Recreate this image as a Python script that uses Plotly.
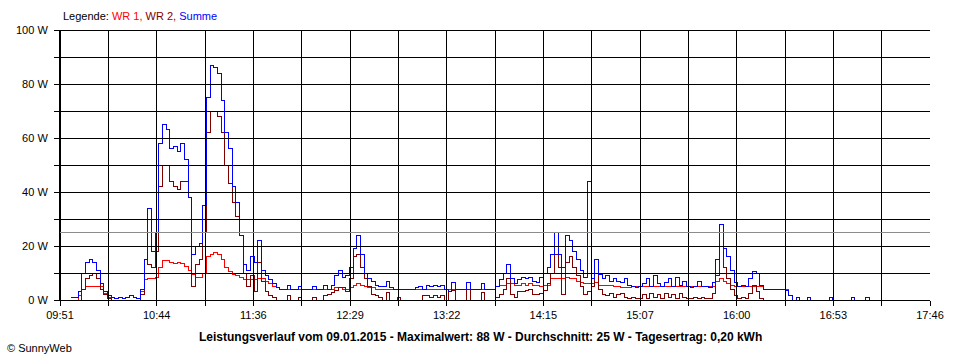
import pandas as pd
import plotly.graph_objects as go

# ---------------- data ----------------
DAY = "2015-01-09"
SAMPLE_START = "09:57"      # first reading
SAMPLE_STEP = "2min"        # reading interval
AXIS_START = "09:51"
AXIS_END = "17:46"

X_TICK_LABELS = ["09:51", "", "10:44", "", "11:36", "", "12:29", "", "13:22", "",
                 "14:15", "", "15:07", "", "16:00", "", "16:53", "", "17:46"]
Y_TICK_VALUES = [0, 10, 20, 30, 40, 50, 60, 70, 80, 90, 100]
Y_TICK_LABELS = ["0 W", "", "20 W", "", "40 W", "", "60 W", "", "80 W", "", "100 W"]
AVERAGE_W = 25

SUMME = [1, 1, 3, 10, 14, 15, 14, 11, 6, 3,
         1.5, 1, 0.5, 1, 0.5, 1, 1.5, 1, 0.5, 4,
         15, 34, 18, 25, 58, 65, 63, 56, 57, 55,
         58, 52, 38, 17, 20, 21, 35, 75, 87, 86,
         84, 74, 62, 56, 42, 36, 24, 13, 11, 16,
         14, 22, 11, 9, 7.5, 6, 4.5, 4, 4, 5.5,
         4, 4, 5, 4, 4, 4, 5, 4, 4, 5.5,
         4, 5.5, 9, 11, 8.5, 9, 12, 19, 24, 17,
         10, 8, 7, 5.5, 5, 5, 7, 4.5, 4, 4,
         4, 4, 4, 4, 4.5, 5, 4, 5.5, 5, 5.5,
         5, 5.5, 4, 3, 6.5, 4, 4, 4, 6.5, 4,
         4, 4, 6, 4, 4, 4, 5, 7.5, 10, 13,
         8, 6, 7.5, 8.5, 8, 8.5, 7, 6.5, 8.5, 10,
         12, 17, 25, 17, 12, 24, 22, 18, 15, 11,
         8.5, 44, 8, 15, 9.5, 8, 9, 7, 8, 7,
         6.5, 8, 5.5, 5, 4.5, 5, 6, 8, 5, 9,
         6, 5, 6.5, 8, 5, 8.5, 5.5, 7, 5, 4.5,
         5, 7, 5, 5, 4.5, 6.5, 15, 28, 19, 16,
         11, 6.5, 5, 5.5, 5, 8, 10.5, 10, 5.5, 4,
         4, 4, 4, 4, 4, 3.5, 1.5, 0, 1, 0,
         0, 1, 0, 0, 0, 0, 0, 1, 0, 0,
         0, 0, 0, 1, 0, 0, 0, 1, 0]

WR1 = [0, 0, 1.5, 4, 5, 5, 5, 5, 5, 2.5,
       1, 0, 0, 0, 0, 0, 0, 0, 0, 3,
       7.5, 8, 8, 8.5, 12, 14.5, 14.5, 14, 13.5, 14,
       13.5, 12.5, 11, 9.5, 8.5, 8.5, 10, 16, 17, 17.5,
       17, 15, 12, 10.5, 9.5, 9, 8.5, 7.5, 7.5, 7.5,
       7.5, 8, 8, 7, 6, 5, 4.5, 4, 4, 4,
       4, 4, 4, 4, 4, 4, 4, 4, 4, 4,
       4, 4, 4.5, 4.5, 4, 4, 4.5, 5.5, 6, 5.5,
       5, 4.5, 4.5, 4, 4, 4, 4, 4, 4, 4,
       4, 4, 4, 4, 4, 4, 4, 4, 4, 4,
       4, 4, 4, 4, 4, 4, 4, 4, 4, 4,
       4, 4, 4, 4, 4, 4, 5, 5.5, 5.5, 6,
       6, 5.5, 5.5, 6, 5.5, 6, 5.5, 5.5, 5, 5.5,
       5.5, 8, 8, 8, 8, 8.5, 8, 8, 7, 6.5,
       6, 6, 6, 6.5, 5.5, 5.5, 5.5, 5.5, 5, 5,
       4.5, 4.5, 4.5, 5, 5, 5, 5, 5, 5, 5,
       5, 5, 5, 5, 5, 5, 5, 5, 5, 5,
       5, 5, 5, 5, 5, 5, 7, 8, 7, 6,
       5.5, 5, 5, 5, 5, 5, 5, 5, 5, 4,
       4, 4, 4, 4, 4, 4, 1.5, 0, 0, 0,
       0, 0, 0, 0, 0, 0, 0, 0, 0, 0,
       0, 0, 0, 0, 0, 0, 0, 0, 0]

WR2 = [0, 0, 0, 4, 8, 9, 10, 8, 4, 2,
       0.5, 0, 0, 0, 0, 0, 0, 0, 0, 2,
       15, 13, 12, 18, 42, 50, 50, 44, 42, 41,
       44, 44, 38, 5, 13, 15, 25, 62, 70, 70,
       68, 62, 50, 43, 36, 31, 24, 10, 5, 9,
       3, 14, 7, 3, 1.5, 1, 0, 0, 0, 1.5,
       0, 0, 1, 0, 0, 0, 1, 0, 0, 1.5,
       2, 2.7, 3.5, 4.5, 4.5, 3, 8, 16, 17, 12,
       8, 5, 2, 1.5, 1, 0, 2.7, 0, 0, 1,
       0, 0, 0, 0, 0, 0, 1.5, 1.5, 1, 1.5,
       1, 1.5, 0, 3, 3.5, 0, 0, 0, 4, 0,
       0, 0, 2.7, 0, 0, 0, 1, 2, 4, 8,
       2, 1, 3, 3, 3.5, 4, 2, 2, 2.5, 3.5,
       6, 10, 17, 12, 2, 14, 16, 12, 9, 5,
       2, 3, 5, 10, 4, 2, 1.5, 2.5, 1, 2,
       2.5, 1, 0.5, 1, 0.5, 0.5, 2, 0.5, 2.5, 1,
       2, 0.5, 2.5, 1, 2, 0.5, 2.5, 1, 0.5, 0.5,
       1, 0.5, 1, 0.5, 0.5, 2.5, 9, 20, 12, 8,
       4, 1.5, 0.5, 1, 0.5, 2.5, 5.5, 3, 0.5, 0,
       0, 0, 0, 0, 0, 0, 0, 0, 0, 0,
       0, 0, 0, 0, 0, 0, 0, 0, 0, 0,
       0, 0, 0, 0, 0, 0, 0, 0, 0]

COLOR_WR1 = "#FF0000"
COLOR_WR2 = "#800000"
COLOR_SUM = "#0000FF"

TITLE_TEXT = ("Leistungsverlauf vom 09.01.2015 - Maximalwert: 88 W - "
              "Durchschnitt: 25 W - Tagesertrag: 0,20 kWh")

# ---------------- figure ----------------
FONT = "Arial, 'Liberation Sans', sans-serif"


def fmt(ts):
    return ts.strftime("%Y-%m-%d %H:%M:%S.%f")[:-3]


times = [fmt(t) for t in pd.date_range(f"{DAY} {SAMPLE_START}", periods=len(SUMME), freq=SAMPLE_STEP)]
x_ticks = [fmt(t) for t in pd.date_range(f"{DAY} {AXIS_START}", f"{DAY} {AXIS_END}",
                                         periods=len(X_TICK_LABELS))]

fig = go.Figure()
for name, vals, col in [("WR 1", WR1, COLOR_WR1), ("WR 2", WR2, COLOR_WR2), ("Summe", SUMME, COLOR_SUM)]:
    fig.add_trace(go.Scatter(x=times, y=vals, name=name, mode="lines",
                             line=dict(color=col, width=1, shape="hv"),
                             showlegend=False))

shapes = []
for xv in x_ticks:
    shapes.append(dict(type="line", xref="x", yref="paper", x0=xv, x1=xv, y0=0, y1=1,
                       line=dict(color="black", width=1), layer="above"))
for yv in Y_TICK_VALUES:
    shapes.append(dict(type="line", xref="paper", yref="y", x0=0, x1=1, y0=yv, y1=yv,
                       line=dict(color="black", width=1), layer="above"))
shapes.append(dict(type="line", xref="paper", yref="y", x0=0, x1=1, y0=AVERAGE_W, y1=AVERAGE_W,
                   line=dict(color="#8C8C8C", width=1), layer="above"))

legend_html = ("Legende: <span style='color:%s'>WR 1,</span> "
               "<span style='color:%s'>WR 2,</span> "
               "<span style='color:%s'>Summe</span>") % (COLOR_WR1, COLOR_WR2, COLOR_SUM)

annotations = [
    dict(text=legend_html, xref="paper", yref="paper", x=1 / 870, y=1 + 14 / 270,
         xanchor="left", yanchor="middle", showarrow=False,
         font=dict(family=FONT, size=11, color="black")),
    dict(text="<b>" + TITLE_TEXT + "</b>", xref="paper", yref="paper",
         x=(480 - 60) / 870, y=-37 / 270, xanchor="center", yanchor="middle",
         showarrow=False, font=dict(family=FONT, size=12, color="black")),
    dict(text="© SunnyWeb", xref="paper", yref="paper",
         x=-55 / 870, y=-48 / 270, xanchor="left", yanchor="middle",
         showarrow=False, font=dict(family=FONT, size=11, color="black")),
]

fig.update_layout(
    width=960, height=360,
    margin=dict(l=60, r=30, t=30, b=60),
    paper_bgcolor="white", plot_bgcolor="white",
    font=dict(family=FONT, size=11, color="black"),
    shapes=shapes, annotations=annotations,
    showlegend=False,
    xaxis=dict(type="date", range=[x_ticks[0], x_ticks[-1]],
               tickmode="array", tickvals=x_ticks, ticktext=X_TICK_LABELS,
               showgrid=False, zeroline=False, showline=True, linecolor="black", linewidth=1,
               ticks="outside", ticklen=5, tickcolor="black", tickwidth=1,
               tickfont=dict(family=FONT, size=11, color="black")),
    yaxis=dict(range=[0, 100], tickmode="array", tickvals=Y_TICK_VALUES, ticktext=Y_TICK_LABELS,
               showgrid=False, zeroline=False, showline=True, linecolor="black", linewidth=1,
               ticks="outside", ticklen=5, tickcolor="black", tickwidth=1,
               ticklabelstandoff=4,
               tickfont=dict(family=FONT, size=11, color="black")),
)

POST = (
    "document.body.style.margin='0';document.body.style.overflow='hidden';"
    "document.querySelectorAll('.scatterlayer path, .shapelayer path, .xlines-above, .ylines-above, .xtick, .ytick')"
    ".forEach(function(p){p.style.shapeRendering='crispEdges';});"
)

fig.write_html("out.html", config={"displayModeBar": False}, post_script=POST)
